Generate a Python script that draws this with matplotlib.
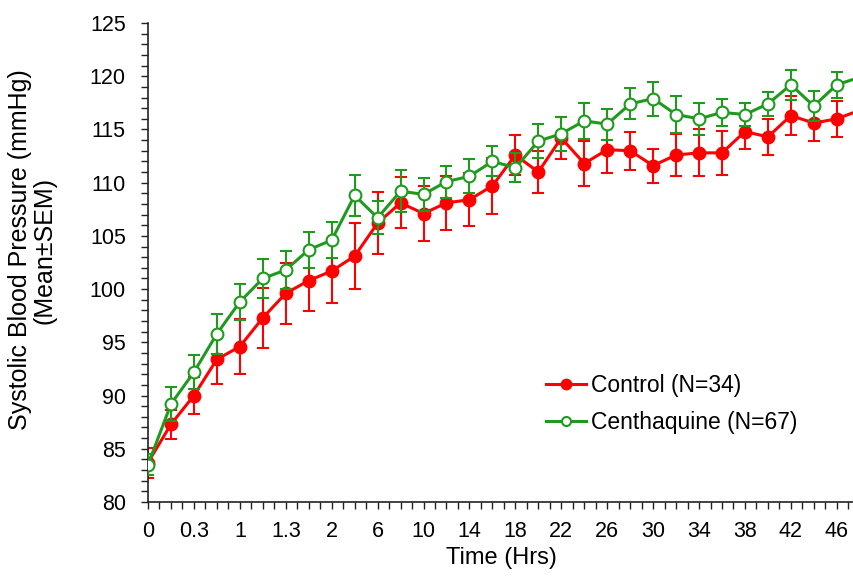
import matplotlib
matplotlib.use("Agg")
import matplotlib.pyplot as plt
from matplotlib.lines import Line2D
from matplotlib.ticker import MultipleLocator

# time points (category axis)
time_labels = ["0", "0.15", "0.3", "0.45", "1", "1.15", "1.3", "1.45", "2",
               "4", "6", "8", "10", "12", "14", "16", "18", "20", "22", "24",
               "26", "28", "30", "32", "34", "36", "38", "40", "42", "44",
               "46", "48"]

control_mean = [83.7, 87.3, 90.0, 93.4, 94.6, 97.3, 99.6, 100.8, 101.7, 103.1,
                106.2, 108.1, 107.1, 108.1, 108.4, 109.7, 112.6, 111.0, 114.2,
                111.8, 113.1, 113.0, 111.6, 112.6, 112.8, 112.8, 114.8, 114.3,
                116.3, 115.6, 116.0, 116.8]
control_sem = [1.4, 1.35, 1.7, 2.3, 2.6, 2.8, 2.9, 2.9, 3.0, 3.1, 2.9, 2.4, 2.6,
               2.5, 2.5, 2.65, 1.9, 2.0, 2.0, 2.1, 2.2, 1.8, 1.6, 2.0, 2.2, 2.05,
               1.65, 1.7, 1.85, 1.65, 1.7, 1.7]

centh_mean = [83.5, 89.2, 92.2, 95.8, 98.8, 101.0, 101.8, 103.7, 104.6, 108.8,
              106.7, 109.2, 108.9, 110.1, 110.6, 112.0, 111.4, 113.9, 114.6,
              115.8, 115.5, 117.4, 117.9, 116.4, 116.0, 116.6, 116.4, 117.4,
              119.2, 117.2, 119.2, 119.9]
centh_sem = [1.0, 1.6, 1.6, 1.9, 1.7, 1.8, 1.75, 1.7, 1.7, 1.9, 1.55, 2.0, 1.55,
             1.5, 1.6, 1.4, 1.35, 1.6, 1.6, 1.7, 1.45, 1.45, 1.6, 1.7, 1.5, 1.3,
             1.1, 1.15, 1.4, 1.4, 1.2, 1.3]

RED = "#ff0000"
GREEN = "#1f9a1f"

plt.rcParams["font.family"] = ["Liberation Sans", "DejaVu Sans"]

fig = plt.figure(figsize=(8.54, 5.76), dpi=100)
ax = fig.add_axes([148 / 854, 74 / 576, 1 - 148 / 854, 479 / 576])

x = list(range(len(time_labels)))

ax.errorbar(x, control_mean, yerr=control_sem, color=RED, lw=2.2,
            marker="o", ms=9, mfc=RED, mec=RED, ecolor=RED, elinewidth=1.5,
            capsize=4, capthick=1.5, zorder=2)
ax.errorbar(x, centh_mean, yerr=centh_sem, color=GREEN, lw=2.2,
            marker="o", ms=8.5, mfc="white", mec=GREEN, mew=1.5,
            ecolor=GREEN, elinewidth=1.5, capsize=4, capthick=1.5, zorder=3)

ax.set_xlim(0, 30.75)
ax.set_ylim(80, 125)

ax.yaxis.set_major_locator(MultipleLocator(5))
ax.yaxis.set_minor_locator(MultipleLocator(1))
ax.set_xticks(x[::2])
ax.set_xticklabels(time_labels[::2])
ax.xaxis.set_minor_locator(MultipleLocator(0.5))

ax.tick_params(axis="both", which="both", direction="out", length=5,
               width=1, color="#222222")
ax.tick_params(axis="y", which="major", labelsize=15.5, pad=11)
ax.tick_params(axis="x", which="major", labelsize=15.5, pad=9)

for s in ["top", "right"]:
    ax.spines[s].set_visible(False)
for s in ["left", "bottom"]:
    ax.spines[s].set_linewidth(1.2)
    ax.spines[s].set_color("#222222")

ax.set_xlabel("Time (Hrs)", fontsize=17, labelpad=3)
fig.text(32 / 854, 1 - 250 / 576, "Systolic Blood Pressure (mmHg)\n(Mean\u00b1SEM)",
         rotation=90, ha="center", va="center", fontsize=18,
         linespacing=1.05, multialignment="center")

handles = [
    Line2D([], [], color=RED, lw=2.2, marker="o", ms=7.5, mfc=RED, mec=RED),
    Line2D([], [], color=GREEN, lw=2.2, marker="o", ms=6.5, mfc="white",
           mec=GREEN, mew=1.5),
]
ax.legend(handles, ["Control (N=34)", "Centhaquine (N=67)"],
          loc="center left", bbox_to_anchor=(0.535, 0.205),
          frameon=False, fontsize=16.5, handlelength=1.75,
          handletextpad=0.2, labelspacing=0.62)

fig.savefig("out.png", dpi=100)
